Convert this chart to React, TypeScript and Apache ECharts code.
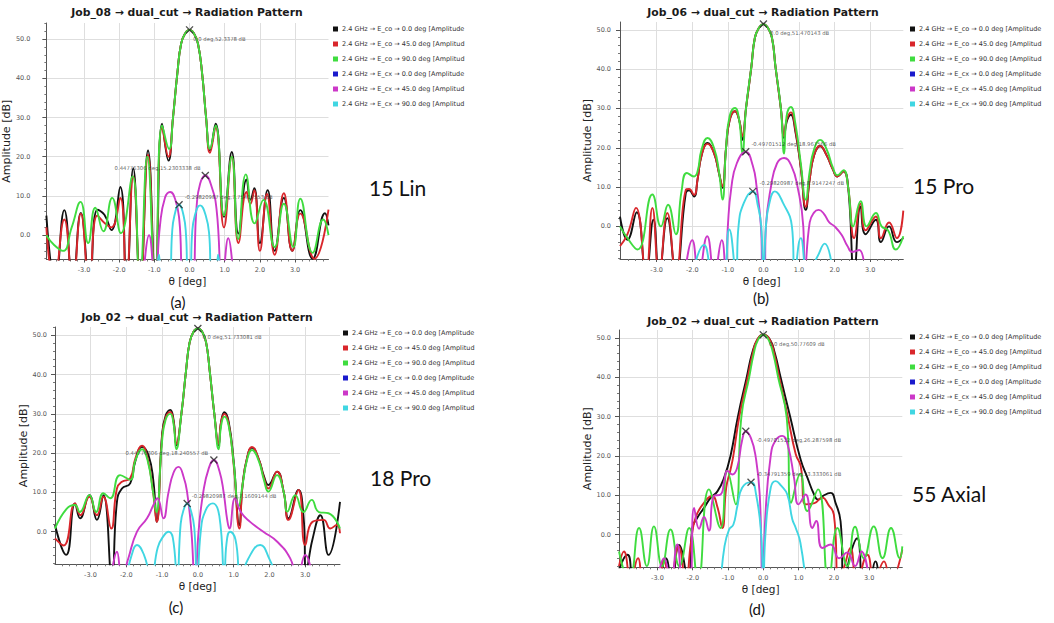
import React, { useEffect, useRef } from "react";
import * as echarts from "echarts";

type Pt = [number, number];

// Legend entries (as truncated by the plotting tool)
const seriesNames = [
  "2.4 GHz → E_co → 0.0 deg [Amplitude",
  "2.4 GHz → E_co → 45.0 deg [Amplitud",
  "2.4 GHz → E_co → 90.0 deg [Amplitud",
  "2.4 GHz → E_cx → 0.0 deg [Amplitude",
  "2.4 GHz → E_cx → 45.0 deg [Amplitud",
  "2.4 GHz → E_cx → 90.0 deg [Amplitud",
];
const seriesColors = ["#111111", "#d9262b", "#3fdc3f", "#1a1acc", "#cc38c8", "#40d6e2"];

const xTickValues = [-3, -2, -1, 0, 1, 2, 3];
const yTickValues = [0, 10, 20, 30, 40, 50];

const panelTitles = [
  "Job_08 → dual_cut → Radiation Pattern",
  "Job_06 → dual_cut → Radiation Pattern",
  "Job_02 → dual_cut → Radiation Pattern",
  "Job_02 → dual_cut → Radiation Pattern",
];
const panelTags = ["(a)", "(b)", "(c)", "(d)"];
const panelLabels = ["15 Lin", "15 Pro", "18 Pro", "55 Axial"];

// ---------- (a) Job_08 : theta [deg], amplitude [dB] ----------
const aCo0: Pt[] = [
  [-4.07, 5.0], [-3.82, -12], [-3.56, 6.4], [-3.32, -12], [-3.09, 5.7], [-2.84, -12], [-2.62, 6.5],
  [-2.42, 5.2], [-2.22, 1.3], [-1.97, 12.3], [-1.79, -12], [-1.6, 17.0], [-1.4, -12], [-1.18, 21.6],
  [-0.97, -12], [-0.78, 28.4], [-0.6, 19.0], [-0.47, 30], [-0.35, 41], [-0.24, 48.8], [-0.12, 51.5],
  [0, 52.3378], [0.12, 51.5], [0.24, 48.8], [0.36, 41], [0.47, 30], [0.58, 21.6], [0.74, 28.4],
  [0.98, 4.7], [1.2, 21.2], [1.39, 0.4], [1.62, 14.2], [1.73, 9], [1.84, 12.0], [2.0, -2], [2.22, 11.5],
  [2.42, -4], [2.68, 9.5], [2.92, -4], [3.15, 6.4], [3.5, -6], [3.85, 5.6], [3.95, 2.5],
];
const aCo45: Pt[] = [
  [-4.07, 2.0], [-3.85, -12], [-3.56, 4.0], [-3.32, -12], [-3.09, 5.5], [-2.85, -12], [-2.62, 5.0],
  [-2.4, 3.0], [-2.22, 2.0], [-1.97, 9.5], [-1.8, -12], [-1.6, 15.0], [-1.4, -12], [-1.18, 20.5],
  [-0.98, -12], [-0.78, 27.5], [-0.6, 20.0], [-0.47, 30], [-0.35, 41], [-0.24, 48.8], [-0.12, 51.5],
  [0, 52.3378], [0.12, 51.5], [0.24, 48.8], [0.36, 41], [0.47, 30], [0.58, 21.0], [0.74, 27.5],
  [0.98, 2.0], [1.2, 20.0], [1.39, -2.0], [1.62, 11.0], [1.73, 8], [1.84, 11.5], [2.0, -4], [2.2, 10.5],
  [2.42, -5], [2.68, 10.7], [2.92, -4], [3.15, 5.5], [3.55, -6], [3.95, 6.5],
];
const aCo90: Pt[] = [
  [-4.07, 0.0], [-3.85, -2.5], [-3.6, -4.0], [-3.35, 2.0], [-3.1, 8.5], [-2.88, -2.0], [-2.68, 7.0],
  [-2.45, 1.0], [-2.2, 9.5], [-1.95, 0.5], [-1.62, 15.0], [-1.42, -12], [-1.2, 20.0], [-0.98, -12],
  [-0.78, 28.0], [-0.58, 22.0], [-0.47, 30], [-0.35, 41], [-0.24, 48.8], [-0.12, 51.5], [0, 52.3378],
  [0.12, 51.5], [0.24, 48.8], [0.36, 41], [0.47, 30], [0.58, 22.0], [0.74, 28.0], [0.98, 5.0],
  [1.2, 20.0], [1.38, -1.0], [1.6, 15.5], [1.85, 3.0], [2.1, 9.0], [2.42, -3.0], [2.68, 8.0],
  [2.95, -3.0], [3.15, 9.3], [3.5, -4.5], [3.8, 4.0], [3.95, 0.0],
];
const aCx0: Pt[] = [];
const aCx45: Pt[] = [
  [-1.32, -12], [-1.15, 0.0], [-0.98, -12], [-0.84, 2.5], [-0.7, 9.5], [-0.55, 11.0], [-0.4, 8.9],
  [-0.29, 3.8], [-0.16, -12], [0.06, -12], [0.2, 7.2], [0.3, 13.1], [0.44776306, 15.2303338],
  [0.63, 12.3], [0.77, 6.4], [0.93, -12], [1.1, -0.8], [1.25, -12],
];
const aCx90: Pt[] = [
  [-0.95, -12], [-0.87, -5.0], [-0.79, -12], [-0.56, -12], [-0.5, 0], [-0.43, 5],
  [-0.29820987, 7.75417553], [-0.17, 5], [-0.1, 0], [-0.04, -12], [0.02, -12], [0.07, 0], [0.15, 5],
  [0.3, 7.6], [0.46, 5], [0.56, 0], [0.62, -12], [0.74, -12], [0.81, -5.0], [0.89, -12],
];
const markersA: Pt[] = [[0, 52.3378], [0.44776306, 15.2303338], [-0.29820987, 7.75417553]];

// ---------- (b) Job_06 ----------
const bCo0: Pt[] = [
  [-4.03, 2.5], [-3.82, -3.4], [-3.56, 3.6], [-3.3, -12], [-3.09, 1.7], [-2.93, -12], [-2.7, 2.1],
  [-2.46, -12], [-2.18, 8.5], [-2.09, 9.2], [-1.95, 7.6], [-1.85, 12], [-1.74, 18], [-1.57, 21.2],
  [-1.39, 18.7], [-1.25, 13.6], [-1.15, 9.8], [-1.05, 20], [-0.95, 27], [-0.8, 29.3], [-0.68, 27],
  [-0.59, 22], [-0.49, 30], [-0.34, 40.5], [-0.24, 48], [-0.12, 50.6], [0, 51.470143], [0.12, 50.6],
  [0.24, 48], [0.34, 40.5], [0.49, 30], [0.58, 22.5], [0.65, 26.5], [0.77, 28.4], [0.9, 24], [1.05, 15],
  [1.19, 4.2], [1.3, 12], [1.42, 18], [1.59, 20.4], [1.78, 18], [1.95, 14.5], [2.08, 12.7], [2.25, 14.0],
  [2.38, 10], [2.55, -12], [2.73, 5.1], [2.87, -2], [3.16, 1.7], [3.3, -4], [3.53, 0.0], [3.75, -4],
  [3.93, -3],
];
const bCo45: Pt[] = [
  [-4.03, -5], [-3.82, -2], [-3.58, 4.7], [-3.3, -12], [-3.12, 4.7], [-2.93, -12], [-2.7, 3.4],
  [-2.46, -12], [-2.18, 9.3], [-2.09, 9.5], [-1.95, 8.0], [-1.85, 12], [-1.74, 18], [-1.57, 21.0],
  [-1.39, 18.7], [-1.25, 13.6], [-1.15, 10.2], [-1.05, 20], [-0.95, 27], [-0.8, 29.3], [-0.68, 27],
  [-0.59, 23], [-0.49, 30], [-0.34, 40.5], [-0.24, 48], [-0.12, 50.6], [0, 51.470143], [0.12, 50.6],
  [0.24, 48], [0.34, 40.5], [0.49, 30], [0.58, 23], [0.65, 27], [0.77, 29], [0.9, 24.5], [1.05, 15],
  [1.19, 5], [1.3, 12], [1.42, 18], [1.59, 20.5], [1.78, 18], [1.95, 14.5], [2.08, 12.7], [2.25, 14],
  [2.38, 10], [2.55, -3], [2.73, 5.8], [2.87, -1], [3.16, 2.5], [3.3, -3], [3.53, 1.0], [3.75, -3],
  [3.93, 4],
];
const bCo90: Pt[] = [
  [-4.03, 0], [-3.82, -3], [-3.54, -5.9], [-3.12, 8.1], [-2.88, 0], [-2.68, 5.5], [-2.46, -2],
  [-2.3, 9], [-2.15, 13.6], [-1.95, 12.7], [-1.85, 14], [-1.74, 19.5], [-1.57, 22.5], [-1.39, 20],
  [-1.25, 14], [-1.15, 6.8], [-1.05, 20], [-0.95, 28], [-0.8, 30.1], [-0.68, 27], [-0.59, 18.5],
  [-0.49, 30], [-0.34, 40.5], [-0.24, 48], [-0.12, 50.6], [0, 51.470143], [0.12, 50.6], [0.24, 48],
  [0.34, 40.5], [0.49, 30], [0.58, 18.5], [0.65, 28], [0.77, 30.4], [0.9, 26], [1.05, 16], [1.19, 6.8],
  [1.3, 14], [1.42, 19.5], [1.59, 22], [1.78, 19.5], [1.95, 15], [2.08, 13], [2.25, 14.3], [2.38, 10],
  [2.52, 0], [2.73, 6.4], [2.9, 0], [3.16, 3.4], [3.32, 0], [3.5, -1], [3.72, -5.9], [3.93, -2.5],
];
const bCx0: Pt[] = [];
const bCx45: Pt[] = [
  [-2.2, -12], [-2.0, -3.5], [-1.82, -12], [-1.58, -2.5], [-1.38, -12], [-1.17, -3.5], [-1.06, -12],
  [-1.0, 0], [-0.9, 10], [-0.75, 16], [-0.49701512, 18.967566], [-0.3, 15.5], [-0.19, 10],
  [-0.07, 0], [-0.02, -12], [0.03, -12], [0.07, 0], [0.21, 10], [0.38, 16], [0.58, 17.4],
  [0.78, 15.5], [0.96, 10], [1.12, 0], [1.16, -12], [1.3, 1], [1.42, 3.5], [1.55, 4.2], [1.7, 3.2],
  [1.85, 1.0], [2.0, 0], [2.2, -2.2], [2.36, -5], [2.5, -6.5], [2.69, -6], [2.85, -12],
];
const bCx90: Pt[] = [
  [-1.98, -12], [-1.67, -4.7], [-1.38, -12], [-1.15, -12], [-0.96, -0.8], [-0.77, -12], [-0.7, 0],
  [-0.55, 6], [-0.29820987, 8.9147247], [-0.15, 5], [-0.06, 0], [0.0, -14], [0.07, 0], [0.17, 6],
  [0.32, 8.9], [0.55, 6], [0.8, 0], [0.88, -12], [1.05, -3], [1.25, -12], [1.5, -8], [1.72, -4.4],
  [1.95, -12],
];
const markersB: Pt[] = [[0, 51.470143], [-0.49701512, 18.967566], [-0.29820987, 8.9147247]];

// ---------- (c) Job_02 ----------
const cCo0: Pt[] = [
  [-3.99, 1.7], [-3.68, -5.9], [-3.43, 7.2], [-3.29, 3.4], [-3.03, 9.3], [-2.82, 3.0], [-2.64, 9.3],
  [-2.4, -12], [-2.26, 7.6], [-2.12, 11], [-1.89, 12.3], [-1.75, 17.8], [-1.56, 21.6], [-1.38, 19.5],
  [-1.24, 12.7], [-1.15, 2.5], [-1.0, 24.6], [-0.9, 29.5], [-0.77, 31], [-0.68, 28.5], [-0.6, 22],
  [-0.46, 30], [-0.33, 41], [-0.23, 48.2], [-0.12, 50.9], [0, 51.733081], [0.12, 50.9], [0.23, 48.2],
  [0.33, 41], [0.46, 30], [0.58, 22], [0.65, 28], [0.74, 30.4], [0.86, 28], [1.0, 18], [1.16, 1.7],
  [1.25, 12], [1.38, 19], [1.51, 21.4], [1.7, 18.5], [1.85, 14], [1.97, 11.9], [2.21, 15.3], [2.4, 10],
  [2.53, 3.4], [2.81, 10.6], [2.95, 4], [3.03, -10], [3.2, -2], [3.42, 4.2], [3.65, -5.9], [3.97, 7.6],
];
const cCo45: Pt[] = [
  [-3.99, -1.7], [-3.75, -3.5], [-3.43, 7.2], [-3.28, 4.2], [-3.03, 8.9], [-2.82, 4.2], [-2.64, 8.9],
  [-2.42, 0.8], [-2.26, 11], [-2.12, 12.7], [-1.89, 13.6], [-1.75, 18.5], [-1.56, 21.9], [-1.4, 18.5],
  [-1.25, 10], [-1.15, 2.5], [-1.0, 24], [-0.9, 29], [-0.77, 30.5], [-0.68, 28], [-0.6, 22.4],
  [-0.46, 30], [-0.33, 41], [-0.23, 48.2], [-0.12, 50.9], [0, 51.733081], [0.12, 50.9], [0.23, 48.2],
  [0.33, 41], [0.46, 30], [0.58, 22.4], [0.65, 28], [0.74, 30], [0.86, 27.5], [1.0, 17], [1.16, 0.8],
  [1.25, 12], [1.38, 19], [1.51, 21.6], [1.7, 18.5], [1.85, 13.5], [1.97, 11], [2.21, 15.3], [2.4, 10],
  [2.53, 3.0], [2.81, 10.6], [3.0, -3.4], [3.2, 2.5], [3.51, 3.0], [3.7, 0.8], [3.88, 1.7], [3.97, -0.4],
];
const cCo90: Pt[] = [
  [-3.99, 0.8], [-3.66, 5.9], [-3.43, 6.8], [-3.3, 5.0], [-3.03, 9.3], [-2.84, 5.0], [-2.64, 9.8],
  [-2.45, 8.5], [-2.17, 14.4], [-1.89, 13.2], [-1.75, 18], [-1.56, 21.0], [-1.4, 18], [-1.25, 10],
  [-1.16, 5.0], [-1.0, 23], [-0.9, 28.5], [-0.77, 30], [-0.68, 27.5], [-0.6, 21], [-0.46, 30],
  [-0.33, 41], [-0.23, 48.2], [-0.12, 50.9], [0, 51.733081], [0.12, 50.9], [0.23, 48.2], [0.33, 41],
  [0.46, 30], [0.58, 21], [0.65, 27], [0.74, 29.3], [0.86, 27], [1.0, 17.5], [1.14, 6.4], [1.25, 12],
  [1.38, 18.5], [1.51, 20.8], [1.7, 18], [1.85, 13], [1.97, 10.2], [2.21, 14.4], [2.4, 10], [2.5, 5.1],
  [2.72, 9.3], [2.95, 5.0], [3.18, 8.1], [3.38, 5.0], [3.65, 4.7], [3.97, 0.8],
];
const cCx0: Pt[] = [];
const cCx45: Pt[] = [
  [-2.42, -12], [-2.26, -5.1], [-2.12, -12], [-1.95, -7], [-1.7, 0], [-1.42, 3.4], [-1.24, 6.8],
  [-1.13, 8.5], [-0.96, 3.4], [-0.82, 10], [-0.68, 15], [-0.54, 16.5], [-0.4, 14], [-0.3, 10],
  [-0.18, 0], [-0.08, -14], [0.02, 0], [0.15, 10], [0.3, 16], [0.44776306, 18.240557], [0.6, 15.5],
  [0.72, 10], [0.82, 3], [0.88, 0.8], [1.04, 8.5], [1.2, 5], [1.46, 2.5], [1.83, 0], [2.21, -2.5],
  [2.58, -6.8], [2.77, -12], [3.0, -5.9], [3.2, -12],
];
const cCx90: Pt[] = [
  [-2.0, -12], [-1.85, -6], [-1.7, -3.4], [-1.5, -6], [-1.3, -12], [-1.12, -4], [-0.95, -1],
  [-0.82, 0.0], [-0.7, -1.5], [-0.58, -12], [-0.48, 2], [-0.4, 5.5], [-0.29820987, 7.1609144],
  [-0.2, 5.5], [-0.1, 1], [-0.02, -14], [0.08, 0], [0.22, 5.5], [0.42, 7.2], [0.6, 4], [0.74, -12],
  [0.8, -3], [0.9, 0], [1.05, -2], [1.2, -12], [1.4, -7], [1.74, -3.4], [2.0, -7], [2.2, -12],
];
const markersC: Pt[] = [[0, 51.733081], [0.44776306, 18.240557], [-0.29820987, 7.1609144]];

// ---------- (d) Job_02 ----------
const dCo0: Pt[] = [
  [-4.09, -9], [-3.85, -5.1], [-3.6, -12], [-3.05, -12], [-2.77, -6], [-2.6, -12], [-2.39, -2.6],
  [-2.12, -12], [-2.01, 1.7], [-1.87, 4.3], [-1.68, 6.8], [-1.49, 9.4], [-1.3, 11], [-1.11, 14.5],
  [-0.93, 20], [-0.72, 30], [-0.47, 40], [-0.32, 46], [-0.17, 49.5], [0, 50.77609], [0.19, 49.5],
  [0.33, 46], [0.49, 40], [0.76, 30], [1.06, 19.0], [1.25, 14.5], [1.44, 10.2], [1.55, 8.9], [1.72, 10],
  [1.91, 10.6], [2.05, 8], [2.19, 3.4], [2.29, -12], [2.5, -4], [2.66, -0.9], [2.85, -12], [3.0, -12],
  [3.18, -6.8], [3.4, -12], [3.94, -12],
];
const dCo45: Pt[] = [
  [-4.09, -8], [-3.95, -4.3], [-3.75, -12], [-3.55, -6], [-3.35, -12], [-2.98, -12], [-2.82, -6.5],
  [-2.65, -12], [-2.4, -3], [-2.2, -12], [-2.05, -2], [-1.92, 4.3], [-1.68, 8.1], [-1.45, 9.8],
  [-1.3, 7], [-1.16, 1.7], [-1.05, 12], [-0.93, 16.5], [-0.85, 20], [-0.68, 30], [-0.44, 40],
  [-0.3, 46], [-0.17, 49.6], [0, 50.77609], [0.18, 49.6], [0.31, 46], [0.45, 40], [0.68, 30.6],
  [0.92, 20.4], [1.06, 17.4], [1.2, 7.7], [1.45, 8], [1.67, 9.4], [1.85, 7.5], [2.0, 5.1], [2.14, -12],
  [2.3, -8], [2.47, -3.4], [2.65, -12], [2.95, -5.1], [3.15, -12], [3.42, -6.8], [3.6, -12], [3.94, -3.8],
];
const dCo90: Pt[] = [
  [-4.09, -4.3], [-3.8, -12], [-3.52, 1.7], [-3.3, -8], [-3.1, 2.1], [-2.87, -8], [-2.63, 1.3],
  [-2.38, -8], [-2.1, 1.7], [-1.85, -12], [-1.54, 11.5], [-1.21, 1.7], [-1.02, 16.2], [-0.78, 7.7],
  [-0.62, 30], [-0.4, 40], [-0.27, 46], [-0.15, 49.5], [0, 50.77609], [0.15, 49.5], [0.28, 46],
  [0.42, 40], [0.66, 30], [0.79, 8.1], [1.05, 15.5], [1.25, 6], [1.55, 11.5], [1.85, -12], [2.1, 1.7],
  [2.38, -8], [2.6, 2.0], [2.85, -6], [3.13, 2.1], [3.38, -6], [3.62, 1.7], [3.87, -6], [3.94, -3],
];
const dCx0: Pt[] = [];
const dCx45: Pt[] = [
  [-3.0, -12], [-2.81, -6], [-2.62, -12], [-2.44, -2.5], [-2.25, -12], [-2.1, -12], [-1.96, 6.8],
  [-1.82, 1.5], [-1.68, 4.5], [-1.54, 1.0], [-1.4, 9.8], [-1.21, 10.2], [-1.1, 14], [-1.02, 16.2],
  [-0.88, 15.3], [-0.74, 17], [-0.6, 24], [-0.49701512, 26.287598], [-0.35, 24.5], [-0.22, 20],
  [-0.1, 10], [-0.02, -14], [0.06, 5], [0.21, 20], [0.35, 24], [0.54, 25.1], [0.7, 22.5], [0.87, 14.5],
  [1.0, 7.7], [1.2, 10.2], [1.39, 1.7], [1.5, 3.5], [1.67, -3.4], [1.91, -2.5], [2.15, -6],
  [2.38, -4.5], [2.6, -8], [2.78, -4.3], [3.0, -12],
];
const dCx90: Pt[] = [
  [-1.2, -12], [-1.1, -3], [-0.97, 1.3], [-0.85, 2.5], [-0.74, 7], [-0.6, 11.9],
  [-0.34791359, 13.333061], [-0.2, 10], [-0.06, 0], [0.0, -14], [0.06, 0], [0.21, 11.9], [0.35, 13.6],
  [0.5, 12.5], [0.68, 10.2], [0.82, 4], [0.92, 1.7], [1.05, -2], [1.2, -12],
];
const markersD: Pt[] = [[0, 50.77609], [-0.49701512, 26.287598], [-0.34791359, 13.333061]];

// ---------- layout of the four panels ----------
type MarkerLabel = { side: "left" | "right"; dx: number; dy: number };
type Layout = {
  grid: { left: number; top: number; width: number; height: number };
  x: [number, number];
  y: [number, number];
  titleAt: [number, number];
  tagAt: [number, number];
  labelAt: [number, number];
  legendAt: [number, number];
  yLabelMargin: number;
  yNameGap: number;
  markerLabels: MarkerLabel[];
};

const layouts: Layout[] = [
  {
    grid: { left: 43, top: 23, width: 285.5, height: 236.5 },
    x: [-4.07, 3.95], y: [-6.2, 54.1],
    titleAt: [187, 12.5], tagAt: [178, 302], labelAt: [369, 187], legendAt: [333, 25],
    yLabelMargin: 16, yNameGap: 21,
    markerLabels: [
      { side: "right", dx: 3, dy: 9 },
      { side: "left", dx: 4, dy: -7 },
      { side: "right", dx: 5, dy: -8 },
    ],
  },
  {
    grid: { left: 620, top: 22, width: 283.3, height: 237 },
    x: [-4.03, 3.93], y: [-8.3, 52.0],
    titleAt: [763, 12.5], tagAt: [761, 298], labelAt: [913, 185], legendAt: [910, 25],
    yLabelMargin: 9, yNameGap: 22,
    markerLabels: [
      { side: "right", dx: 6, dy: 9 },
      { side: "right", dx: 5, dy: -8 },
      { side: "right", dx: 6, dy: -8 },
    ],
  },
  {
    grid: { left: 55, top: 327, width: 285, height: 237.3 },
    x: [-3.99, 3.97], y: [-8.3, 52.1],
    titleAt: [197, 317.5], tagAt: [176, 607], labelAt: [370, 477], legendAt: [343, 329],
    yLabelMargin: 8, yNameGap: 24,
    markerLabels: [
      { side: "right", dx: 4, dy: 9 },
      { side: "left", dx: 5, dy: -7 },
      { side: "right", dx: 4, dy: -8 },
    ],
  },
  {
    grid: { left: 619, top: 330, width: 283.3, height: 237.3 },
    x: [-4.09, 3.94], y: [-8.3, 52.0],
    titleAt: [763, 321], tagAt: [757, 609], labelAt: [912, 493], legendAt: [910, 333],
    yLabelMargin: 8, yNameGap: 21,
    markerLabels: [
      { side: "right", dx: 5, dy: 9 },
      { side: "right", dx: 10, dy: 9 },
      { side: "right", dx: 5, dy: -8 },
    ],
  },
];

const panelCurves: Pt[][][] = [
  [aCo0, aCo45, aCo90, aCx0, aCx45, aCx90],
  [bCo0, bCo45, bCo90, bCx0, bCx45, bCx90],
  [cCo0, cCo45, cCo90, cCx0, cCx45, cCx90],
  [dCo0, dCo45, dCo90, dCx0, dCx45, dCx90],
];
const panelMarkers: Pt[][] = [markersA, markersB, markersC, markersD];

const FONT = "DejaVu Sans";
const crossSymbol = "path://M0,0L10,10M10,0L0,10";

function markerText(p: Pt): string {
  const deg = p[0] === 0 ? "0.0" : String(p[0]);
  return `${deg} deg,${p[1]} dB`;
}

function buildOption() {
  const grid = layouts.map((l) => ({ ...l.grid, containLabel: false }));

  const xAxis = layouts.map((l, i) => ({
    type: "value",
    gridIndex: i,
    min: l.x[0],
    max: l.x[1],
    splitNumber: 8,
    name: "θ [deg]",
    nameLocation: "middle",
    nameGap: 16,
    nameTextStyle: { fontSize: 10.5, color: "#222", fontFamily: FONT },
    axisLine: { show: true, onZero: false, lineStyle: { color: "#555", width: 1 } },
    axisTick: { show: true, length: 3, customValues: xTickValues, lineStyle: { color: "#555" } },
    minorTick: { show: true, splitNumber: 5, length: 2, lineStyle: { color: "#777" } },
    axisLabel: {
      customValues: xTickValues,
      margin: 7,
      fontSize: 6.5,
      color: "#555",
      fontFamily: FONT,
      formatter: (v: number) => (Math.abs(v - Math.round(v)) < 1e-6 ? v.toFixed(1) : ""),
    },
    splitLine: { show: true, lineStyle: { color: "#dedede", width: 1 } },
  }));

  const yAxis = layouts.map((l, i) => ({
    type: "value",
    gridIndex: i,
    min: l.y[0],
    max: l.y[1],
    splitNumber: 6,
    name: "Amplitude [dB]",
    nameLocation: "middle",
    nameGap: l.yNameGap,
    nameTextStyle: { fontSize: 11, color: "#222", fontFamily: FONT },
    axisLine: { show: true, onZero: false, lineStyle: { color: "#555", width: 1 } },
    axisTick: { show: true, length: 4, customValues: yTickValues, lineStyle: { color: "#555" } },
    minorTick: { show: true, splitNumber: 5, length: 2, lineStyle: { color: "#777" } },
    axisLabel: {
      customValues: yTickValues,
      margin: l.yLabelMargin,
      fontSize: 6.5,
      color: "#555",
      fontFamily: FONT,
      formatter: (v: number) => (Math.abs(v / 10 - Math.round(v / 10)) < 1e-6 ? v.toFixed(1) : ""),
    },
    splitLine: { show: true, lineStyle: { color: "#dedede", width: 1 } },
  }));

  const legend = layouts.map((l) => ({
    orient: "vertical",
    left: l.legendAt[0],
    top: l.legendAt[1],
    padding: 0,
    data: seriesNames,
    icon: "rect",
    itemWidth: 5,
    itemHeight: 5,
    itemGap: 7,
    selectedMode: false,
    textStyle: { fontSize: 6.5, lineHeight: 8, color: "#333", fontFamily: FONT, padding: [0, 0, 0, -1] },
  }));

  const series: any[] = [];
  layouts.forEach((l, i) => {
    panelCurves[i].forEach((data, k) => {
      series.push({
        type: "line",
        name: seriesNames[k],
        xAxisIndex: i,
        yAxisIndex: i,
        data,
        showSymbol: false,
        symbol: "none",
        smooth: 0.5,
        clip: true,
        silent: true,
        lineStyle: { color: seriesColors[k], width: 1.9 },
        itemStyle: { color: seriesColors[k] },
        emphasis: { disabled: true },
      });
    });
    series.push({
      type: "scatter",
      name: `peaks ${i}`,
      xAxisIndex: i,
      yAxisIndex: i,
      symbol: crossSymbol,
      symbolSize: 7,
      silent: true,
      z: 5,
      itemStyle: { color: "rgba(0,0,0,0)", borderColor: "#222", borderWidth: 1.3 },
      data: panelMarkers[i].map((m, j) => {
        const ml = l.markerLabels[j];
        const ox = ml.side === "right" ? ml.dx - 3.5 : -(ml.dx - 3.5);
        return {
          value: m,
          label: {
            show: true,
            position: ml.side,
            distance: 0,
            offset: [ox, ml.dy],
            formatter: markerText(m),
            fontSize: 5.3,
            color: "#333",
            fontFamily: FONT,
          },
        };
      }),
    });
  });

  const graphic: any[] = [];
  layouts.forEach((l, i) => {
    graphic.push({
      type: "text",
      x: l.titleAt[0],
      y: l.titleAt[1],
      silent: true,
      style: {
        text: panelTitles[i],
        font: `bold 10.8px "${FONT}"`,
        fill: "#1a1a1a",
        align: "center",
        verticalAlign: "middle",
        textAlign: "center",
        textVerticalAlign: "middle",
      },
    });
    graphic.push({
      type: "text",
      x: l.tagAt[0],
      y: l.tagAt[1],
      silent: true,
      style: {
        text: panelTags[i],
        font: "15px Lato",
        fill: "#111",
        align: "center",
        verticalAlign: "middle",
        textAlign: "center",
        textVerticalAlign: "middle",
      },
    });
    graphic.push({
      type: "text",
      x: l.labelAt[0],
      y: l.labelAt[1],
      silent: true,
      style: {
        text: panelLabels[i],
        font: "21px Lato",
        fill: "#111",
        align: "left",
        verticalAlign: "middle",
        textAlign: "left",
        textVerticalAlign: "middle",
      },
    });
  });

  return {
    animation: false,
    backgroundColor: "#ffffff",
    textStyle: { fontFamily: FONT },
    grid,
    xAxis,
    yAxis,
    legend,
    series,
    graphic,
  };
}

export default function App() {
  const ref = useRef<HTMLDivElement>(null);

  useEffect(() => {
    document.body.style.margin = "0";
    if (!ref.current) return;
    const chart = echarts.init(ref.current, undefined, { renderer: "svg" });
    chart.setOption(buildOption() as any);
    return () => chart.dispose();
  }, []);

  return <div ref={ref} style={{ width: 1054, height: 623, background: "#fff" }} />;
}
